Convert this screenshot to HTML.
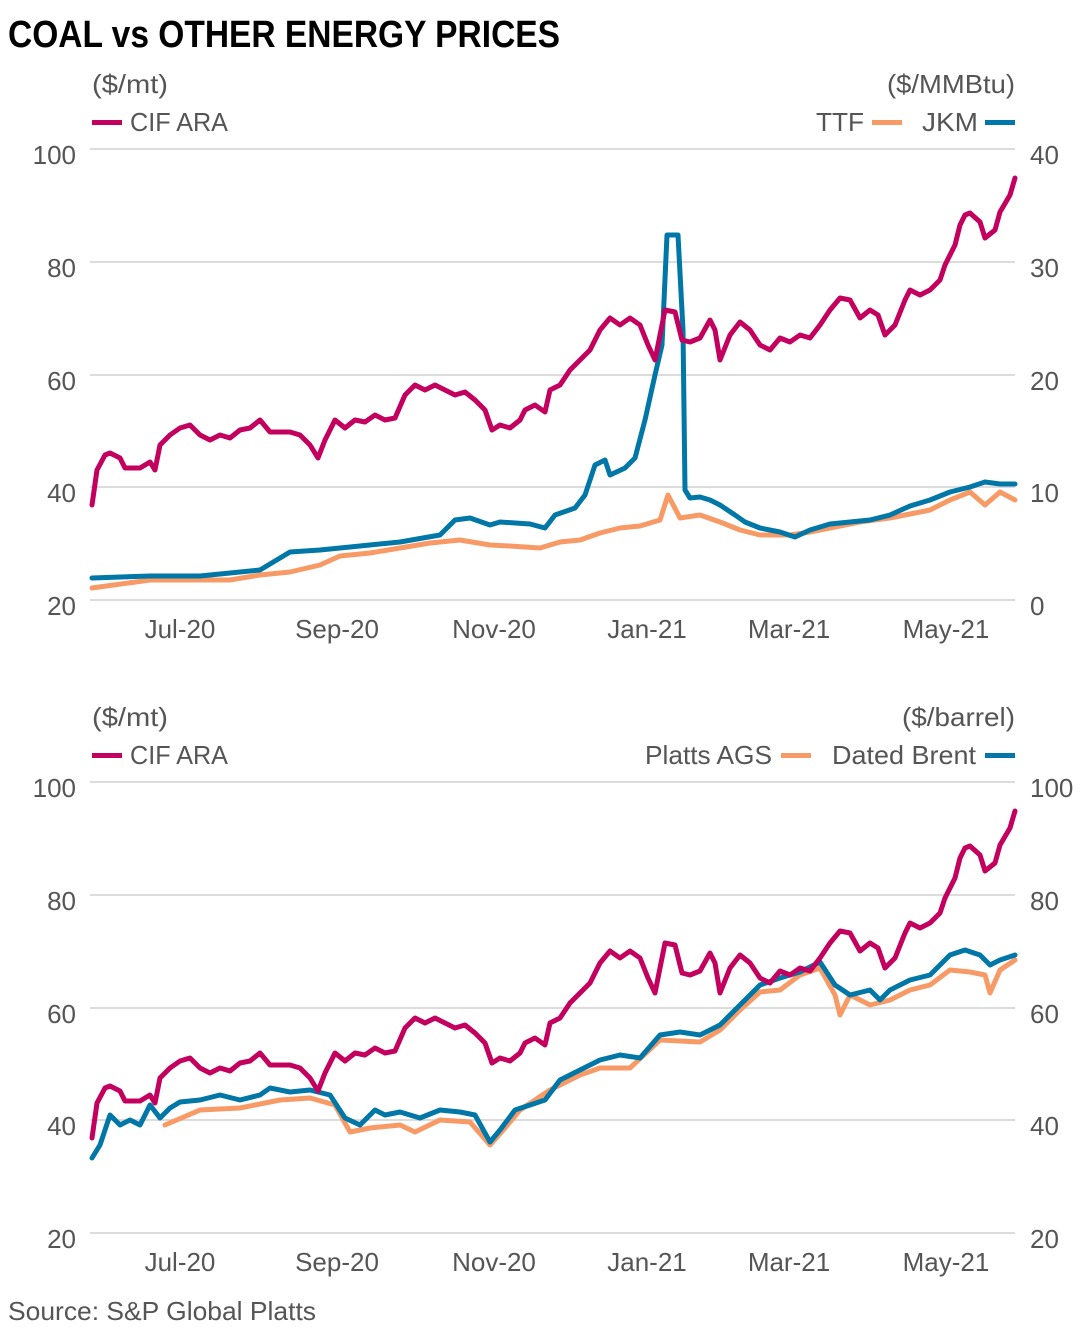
<!DOCTYPE html>
<html><head><meta charset="utf-8"><style>
html,body{margin:0;padding:0;background:#fff;}
svg text{font-family:"Liberation Sans Narrow","Liberation Sans",sans-serif;fill:#555;}
</style></head><body>
<svg width="1080" height="1336" viewBox="0 0 1080 1336" xmlns="http://www.w3.org/2000/svg">
<text x="8" y="47" style="font-weight:bold;fill:#000;font-size:38px" textLength="552" lengthAdjust="spacingAndGlyphs">COAL vs OTHER ENERGY PRICES</text>

<!-- TOP CHART -->
<g stroke="#dcdcdc" stroke-width="2">
<line x1="90" y1="149" x2="1015" y2="149"/><line x1="90" y1="262" x2="1015" y2="262"/><line x1="90" y1="375" x2="1015" y2="375"/><line x1="90" y1="487" x2="1015" y2="487"/><line x1="90" y1="600" x2="1015" y2="600"/>
</g>
<g font-size="26">
<text x="92" y="93" textLength="76" lengthAdjust="spacingAndGlyphs">($/mt)</text>
<text x="130" y="131" textLength="98" lengthAdjust="spacingAndGlyphs">CIF ARA</text>
<text x="1015" y="93" text-anchor="end" textLength="128" lengthAdjust="spacingAndGlyphs">($/MMBtu)</text>
<text x="816" y="131" textLength="48" lengthAdjust="spacingAndGlyphs">TTF</text>
<text x="922" y="131" textLength="56" lengthAdjust="spacingAndGlyphs">JKM</text>
<g text-anchor="end"><text x="76" y="164">100</text><text x="76" y="277">80</text><text x="76" y="390">60</text><text x="76" y="502">40</text><text x="76" y="615">20</text></g>
<text x="1030" y="164">40</text><text x="1030" y="277">30</text><text x="1030" y="390">20</text><text x="1030" y="502">10</text><text x="1030" y="615">0</text>
<g text-anchor="middle"><text x="180" y="638">Jul-20</text><text x="337" y="638">Sep-20</text><text x="494" y="638">Nov-20</text><text x="647" y="638">Jan-21</text><text x="789" y="638">Mar-21</text><text x="946" y="638">May-21</text></g>
</g>
<rect x="92" y="120" width="30" height="5" fill="#c4005e"/>
<rect x="872" y="120" width="30" height="5" fill="#f79a66"/>
<rect x="985" y="120" width="30" height="5" fill="#0077a6"/>

<g fill="none" stroke-width="5" stroke-linejoin="round" stroke-linecap="round">
<polyline stroke="#f79a66" points="92,588 150,580 200,580 230,580 260,575 290,572 320,565 340,556 370,553 400,548 430,543 460,540 490,545 510,546 540,548 560,542 580,540 600,533 620,528 640,526 660,520 668,495 680,518 700,515 720,522 740,530 760,535 790,535 810,532 830,528 860,522 890,518 910,514 930,510 950,500 970,492 985,505 1000,492 1015,500"/>
<polyline stroke="#0077a6" points="92,578 150,576 200,576 260,570 290,552 320,550 340,548 360,546 400,542 440,535 455,520 470,518 490,525 500,522 530,524 545,528 555,515 575,508 585,495 595,465 605,460 610,475 625,468 635,458 645,420 655,375 662,345 667,235 678,235 683,330 685,490 690,498 700,497 710,500 720,505 735,515 745,522 760,528 780,532 795,537 810,530 830,524 850,522 870,520 890,515 910,506 930,500 950,492 970,487 985,482 1000,484 1015,484"/>
<polyline id="cif" stroke="#c4005e" points="92,505 97,470 105,455 110,453 120,458 125,468 140,468 150,462 155,470 160,445 170,435 180,428 190,425 200,435 210,440 220,435 230,438 240,430 250,428 260,420 270,432 290,432 300,435 310,445 318,458 325,440 335,420 345,428 355,420 365,422 375,415 385,420 395,418 405,395 415,385 425,390 435,385 445,390 455,395 465,392 475,400 485,410 492,430 500,425 510,428 520,420 525,410 535,405 545,412 550,390 560,385 570,370 580,360 590,350 600,330 610,318 620,325 630,318 640,325 648,345 655,360 665,310 675,312 682,340 690,342 700,338 710,320 715,330 720,360 730,335 740,322 750,330 760,345 770,350 780,338 790,342 800,335 810,338 820,325 830,310 840,298 850,300 860,318 870,310 878,315 885,335 895,325 905,300 910,290 920,295 930,290 940,280 945,265 955,245 960,225 965,215 970,213 980,222 985,238 995,230 1000,212 1010,195 1015,178"/>
</g>

<!-- BOTTOM CHART -->
<g stroke="#dcdcdc" stroke-width="2">
<line x1="90" y1="782" x2="1015" y2="782"/><line x1="90" y1="895" x2="1015" y2="895"/><line x1="90" y1="1008" x2="1015" y2="1008"/><line x1="90" y1="1120" x2="1015" y2="1120"/><line x1="90" y1="1233" x2="1015" y2="1233"/>
</g>
<g font-size="26">
<text x="92" y="726" textLength="76" lengthAdjust="spacingAndGlyphs">($/mt)</text>
<text x="130" y="764" textLength="98" lengthAdjust="spacingAndGlyphs">CIF ARA</text>
<text x="1015" y="726" text-anchor="end" textLength="113" lengthAdjust="spacingAndGlyphs">($/barrel)</text>
<text x="645" y="764" textLength="127" lengthAdjust="spacingAndGlyphs">Platts AGS</text>
<text x="832" y="764" textLength="144" lengthAdjust="spacingAndGlyphs">Dated Brent</text>
<g text-anchor="end"><text x="76" y="797">100</text><text x="76" y="910">80</text><text x="76" y="1023">60</text><text x="76" y="1135">40</text><text x="76" y="1248">20</text></g>
<text x="1030" y="797">100</text><text x="1030" y="910">80</text><text x="1030" y="1023">60</text><text x="1030" y="1135">40</text><text x="1030" y="1248">20</text>
<g text-anchor="middle"><text x="180" y="1271">Jul-20</text><text x="337" y="1271">Sep-20</text><text x="494" y="1271">Nov-20</text><text x="647" y="1271">Jan-21</text><text x="789" y="1271">Mar-21</text><text x="946" y="1271">May-21</text></g>
<text x="8" y="1320" textLength="308" lengthAdjust="spacingAndGlyphs">Source: S&amp;P Global Platts</text>
</g>
<rect x="92" y="753" width="30" height="5" fill="#c4005e"/>
<rect x="781" y="753" width="30" height="5" fill="#f79a66"/>
<rect x="985" y="753" width="30" height="5" fill="#0077a6"/>

<g fill="none" stroke-width="5" stroke-linejoin="round" stroke-linecap="round">
<polyline stroke="#f79a66" points="165,1125 200,1110 240,1108 280,1100 310,1098 335,1105 350,1132 370,1128 400,1125 415,1132 440,1120 470,1122 490,1145 505,1128 520,1110 550,1090 580,1075 600,1068 630,1068 660,1040 700,1042 720,1030 740,1010 760,992 780,990 800,975 820,968 835,995 840,1015 850,995 870,1005 890,1000 910,990 930,985 950,970 970,972 985,975 990,993 1000,970 1015,960"/>
<polyline stroke="#0077a6" points="92,1158 100,1145 110,1115 120,1125 130,1120 140,1125 150,1105 160,1118 170,1108 180,1102 200,1100 220,1095 240,1100 260,1095 270,1088 290,1092 310,1090 330,1095 345,1118 360,1125 375,1110 385,1115 400,1112 420,1118 440,1110 460,1112 475,1115 490,1142 500,1130 515,1110 530,1105 545,1100 560,1080 580,1070 600,1060 620,1055 640,1058 660,1035 680,1032 700,1035 720,1025 740,1005 760,985 780,978 800,972 820,962 835,985 850,995 870,990 880,1000 890,990 910,980 930,975 950,955 965,950 980,955 990,965 1000,960 1015,955"/>
<polyline stroke="#c4005e" transform="translate(0,633)" points="92,505 97,470 105,455 110,453 120,458 125,468 140,468 150,462 155,470 160,445 170,435 180,428 190,425 200,435 210,440 220,435 230,438 240,430 250,428 260,420 270,432 290,432 300,435 310,445 318,458 325,440 335,420 345,428 355,420 365,422 375,415 385,420 395,418 405,395 415,385 425,390 435,385 445,390 455,395 465,392 475,400 485,410 492,430 500,425 510,428 520,420 525,410 535,405 545,412 550,390 560,385 570,370 580,360 590,350 600,330 610,318 620,325 630,318 640,325 648,345 655,360 665,310 675,312 682,340 690,342 700,338 710,320 715,330 720,360 730,335 740,322 750,330 760,345 770,350 780,338 790,342 800,335 810,338 820,325 830,310 840,298 850,300 860,318 870,310 878,315 885,335 895,325 905,300 910,290 920,295 930,290 940,280 945,265 955,245 960,225 965,215 970,213 980,222 985,238 995,230 1000,212 1010,195 1015,178"/>
</g>
</svg>
</body></html>
